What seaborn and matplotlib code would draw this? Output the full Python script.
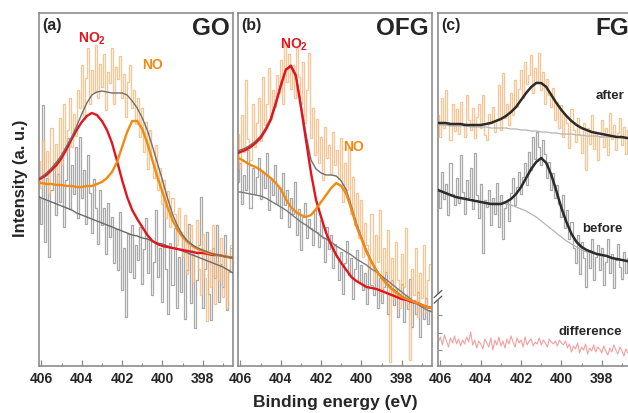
import numpy as np
import pandas as pd
import matplotlib
matplotlib.use("Agg")
import matplotlib.pyplot as plt
import seaborn as sns

# ---------------------------------------------------------------- data
# Binding-energy scan grids (eV): raw spectra at 0.1 eV, fitted curves at 0.25 eV
E_RAW = np.round(np.linspace(406.1, 396.6, 96), 2)
E_FIT = np.round(np.linspace(406.25, 396.5, 40), 2)

# (a) GO
go_after = [205, 178, 226, 190, 215, 172, 238, 196, 222, 184,
            248, 201, 262, 214, 236, 268, 219, 252, 230, 276,
            258, 301, 247, 288, 318, 262, 296, 274, 321, 268,
            302, 279, 312, 256, 294, 283, 318, 262, 299, 287,
            310, 268, 292, 249, 284, 301, 258, 276, 242, 268,
            229, 258, 214, 244, 197, 236, 206, 188, 221, 176,
            198, 162, 186, 148, 175, 139, 168, 152, 121, 158,
            134, 109, 151, 92, 128, 141, 84, 118, 146, 97,
            71, 132, 88, 45, 116, 79, 141, 62, 104, 86,
            128, 69, 112, 58, 97, 121]
go_before = [168, 142, 261, 124, 188, 109, 176, 203, 151, 192,
             164, 214, 139, 186, 228, 157, 201, 172, 219, 148,
             229, 168, 196, 142, 211, 173, 133, 187, 158, 122,
             176, 141, 158, 112, 163, 129, 149, 103, 137, 96,
             154, 76, 118, 49, 132, 94, 141, 88, 121, 106,
             139, 82, 117, 148, 93, 128, 71, 104, 156, 89,
             118, 64, 166, 97, 52, 123, 81, 138, 58, 109,
             74, 131, 47, 96, 142, 63, 112, 38, 86, 121,
             169, 58, 97, 134, 72, 46, 118, 88, 141, 64,
             102, 79, 131, 56, 94, 118]
go_no2 = [185, 188, 191, 196, 201, 208, 217, 227, 236, 244,
          250, 253, 251, 245, 236, 223, 205, 186, 169, 156,
          147, 139, 131, 125, 122, 120, 119, 118, 117, 116,
          115, 114, 113, 113, 112, 111, 111, 110, 109, 108]
go_no = [184, 183, 182, 182, 181, 181, 180, 180, 179, 179,
         180, 180, 182, 184, 188, 194, 204, 219, 234, 245,
         245, 237, 223, 206, 189, 174, 159, 146, 136, 129,
         124, 120, 117, 115, 113, 112, 111, 110, 109, 108]
go_bg = [171, 168, 166, 164, 162, 160, 158, 156, 153, 151,
         149, 147, 145, 143, 141, 139, 137, 135, 133, 131,
         130, 128, 127, 125, 123, 122, 120, 118, 117, 115,
         113, 111, 109, 107, 105, 103, 101, 99, 96, 93]
go_env = [187, 189, 193, 198, 204, 211, 220, 229, 240, 252,
          263, 271, 274, 275, 274, 273, 273, 273, 271, 265,
          258, 248, 236, 220, 203, 186, 168, 152, 140, 131,
          125, 121, 118, 116, 114, 112, 111, 110, 109, 108]

# (b) OFG
ofg_after = [232, 198, 251, 214, 286, 227, 206, 262, 219, 243,
             268, 225, 289, 241, 262, 298, 247, 276, 259, 291,
             273, 306, 262, 323, 284, 312, 277, 301, 268, 318,
             289, 262, 304, 243, 276, 313, 228, 258, 211, 247,
             203, 229, 186, 239, 208, 221, 192, 234, 201, 216,
             187, 228, 164, 203, 176, 219, 152, 189, 141, 173,
             128, 166, 109, 143, 121, 97, 152, 83, 131, 104,
             156, 72, 118, 92, 136, 4, 108, 67, 124, 86,
             58, 112, 79, 138, 62, 6, 97, 71, 118, 49,
             93, 68, 121, 54, 86, 102]
ofg_before = [184, 203, 162, 191, 176, 216, 158, 198, 172, 189,
              208, 167, 194, 178, 213, 156, 188, 171, 201, 162,
              179, 148, 193, 161, 176, 139, 168, 152, 184, 131,
              157, 116, 149, 163, 128, 147, 138, 121, 156, 134,
              119, 146, 128, 104, 139, 117, 131, 98, 122, 109,
              86, 114, 72, 103, 125, 91, 108, 67, 97, 116,
              84, 101, 76, 93, 62, 108, 81, 71, 96, 58,
              88, 63, 79, 94, 52, 72, 86, 61, 77, 49,
              68, 82, 44, 71, 57, 87, 39, 66, 52, 74,
              29, 61, 47, 68, 42, 56]
ofg_no2 = [212, 214, 216, 219, 223, 228, 236, 246, 262, 280,
           296, 300, 290, 259, 226, 193, 166, 149, 133, 121,
           111, 103, 96, 89, 85, 82, 79, 78, 77, 75,
           73, 71, 69, 67, 66, 64, 63, 61, 59, 58]
ofg_no = [209, 207, 204, 201, 199, 196, 192, 188, 183, 177,
          167, 159, 154, 151, 149, 151, 157, 164, 171, 178,
          183, 180, 172, 157, 140, 127, 114, 104, 95, 88,
          82, 77, 73, 69, 67, 65, 63, 61, 59, 58]
ofg_bg = [174, 174, 173, 172, 171, 170, 168, 165, 162, 159,
          156, 152, 148, 144, 141, 137, 134, 130, 127, 124,
          120, 117, 114, 111, 107, 104, 101, 97, 94, 90,
          86, 82, 78, 74, 70, 66, 62, 59, 56, 54]
ofg_env = [214, 216, 218, 221, 225, 230, 238, 248, 264, 282,
           297, 301, 292, 262, 232, 206, 197, 193, 191, 191,
           190, 185, 176, 160, 143, 129, 116, 105, 96, 89,
           83, 78, 74, 70, 67, 65, 63, 61, 59, 58]

# (c) FG
fg_after = [251, 229, 268, 238, 276, 244, 226, 262, 235, 257,
            232, 264, 241, 229, 271, 246, 236, 258, 228, 249,
            262, 238, 271, 231, 226, 252, 243, 259, 234, 247,
            281, 236, 293, 248, 262, 241, 273, 251, 286, 259,
            277, 296, 268, 304, 282, 291, 311, 273, 298, 285,
            313, 276, 294, 262, 287, 271, 259, 278, 246, 264,
            238, 261, 229, 252, 243, 218, 257, 236, 224, 248,
            231, 213, 243, 196, 238, 222, 251, 217, 234, 206,
            229, 246, 219, 238, 211, 253, 227, 241, 216, 233,
            248, 221, 239, 212, 236, 226]
fg_before = [176, 158, 194, 167, 182, 151, 203, 172, 161, 188,
             163, 211, 174, 152, 186, 169, 198, 157, 213, 171,
             148, 182, 113, 166, 159, 176, 141, 168, 152, 183,
             139, 171, 127, 158, 164, 145, 173, 188, 161, 179,
             194, 172, 189, 203, 181, 214, 196, 229, 207, 234,
             219, 201, 226, 212, 188, 204, 176, 193, 168, 181,
             162, 149, 171, 138, 156, 127, 144, 118, 103, 131,
             92, 124, 108, 79, 116, 98, 127, 86, 109, 121,
             96, 118, 81, 104, 127, 93, 112, 78, 106, 122,
             99, 87, 114, 93, 108, 119]
fg_diff = [24, 29, 21, 31, 25, 19, 28, 23, 30, 22,
           27, 20, 26, 22, 29, 24, 34, 21, 26, 18,
           25, 22, 17, 27, 23, 19, 28, 16, 26, 21,
           29, 20, 25, 18, 27, 22, 30, 24, 19, 28,
           23, 26, 19, 29, 21, 25, 27, 20, 24, 22,
           28, 21, 26, 23, 19, 27, 24, 22, 25, 20,
           26, 23, 21, 25, 18, 22, 14, 20, 17, 23,
           13, 19, 16, 22, 12, 18, 15, 21, 14, 19,
           17, 13, 20, 15, 11, 18, 14, 21, 16, 12,
           19, 15, 10, 17, 13, 16]
fg_after_fit = [243, 243, 243, 242, 242, 242, 241, 241, 241, 241,
                242, 243, 245, 247, 250, 254, 259, 266, 273, 279,
                283, 283, 279, 271, 263, 256, 250, 245, 241, 238,
                236, 234, 233, 232, 231, 230, 229, 229, 228, 228]
fg_after_bg = [241, 241, 241, 240, 240, 240, 240, 239, 239, 239,
               239, 238, 238, 238, 238, 237, 237, 236, 236, 235,
               235, 234, 234, 233, 233, 232, 232, 232, 231, 231,
               230, 230, 230, 229, 229, 229, 229, 228, 228, 228]
fg_before_fit = [177, 175, 173, 171, 169, 168, 167, 166, 165, 164,
                 163, 162, 162, 162, 164, 167, 172, 179, 188, 197,
                 204, 208, 203, 191, 175, 158, 144, 132, 124, 119,
                 116, 114, 112, 111, 110, 108, 107, 106, 105, 104]
fg_before_bg = [177, 175, 173, 171, 169, 168, 167, 166, 165, 164,
                163, 163, 163, 163, 162, 161, 159, 157, 155, 152,
                149, 145, 141, 137, 133, 129, 125, 122, 119, 116,
                114, 113, 112, 111, 110, 108, 107, 106, 105, 104]

x_ticks = [406, 404, 402, 400, 398]
panel_tags = ["(a)", "(b)", "(c)"]
panel_names = ["GO", "OFG", "FG"]

# ---------------------------------------------------------------- style
sns.set_theme(style="white")
plt.rcParams["font.family"] = ["Liberation Sans", "DejaVu Sans"]
plt.rcParams["font.weight"] = "bold"
plt.rcParams["mathtext.fontset"] = "custom"
plt.rcParams["mathtext.rm"] = "Liberation Sans"
plt.rcParams["mathtext.bf"] = "Liberation Sans:bold"

C_ORANGE_RAW = "#f9b777"
C_GRAY_RAW = "#a9a9a9"
C_RED = "#e4141c"
C_ORANGE = "#f28a12"
C_ENV = "#6e6e6e"
C_SPINE = "#8c8c8c"

W, H = 628, 413
fig = plt.figure(figsize=(W / 100, H / 100), dpi=100)
bottom, top = 366, 13
lefts = [39, 238, 438]
width = 194
axes = [fig.add_axes([l / W, (H - bottom) / H, width / W, (bottom - top) / H])
        for l in lefts]

XLIM = (406.12, 396.5)
YLIM = (0, 353)


def raw(ax, y, color, alpha=1.0, lw=0.9, z=1, steps=True):
    df = pd.DataFrame({"E": E_RAW, "I": y})
    kw = {"drawstyle": "steps-mid"} if steps else {}
    sns.lineplot(data=df, x="E", y="I", ax=ax, color=color, lw=lw, alpha=alpha,
                 estimator=None, sort=False, zorder=z, **kw)


def curve(ax, y, color, lw=1.6, z=3):
    df = pd.DataFrame({"E": E_FIT, "I": y})
    sns.lineplot(data=df, x="E", y="I", ax=ax, color=color, lw=lw,
                 estimator=None, sort=False, zorder=z)


# (a) GO
ax = axes[0]
raw(ax, go_before, C_GRAY_RAW, z=1)
raw(ax, go_after, C_ORANGE_RAW, alpha=0.8, z=2)
curve(ax, go_bg, "#6a6a6a", lw=1.0)
curve(ax, go_no2, C_RED, lw=1.7)
curve(ax, go_no, C_ORANGE, lw=1.7)
curve(ax, go_env, C_ENV, lw=1.0, z=4)
ax.text(0.275, 0.927, r"NO$_{\mathbf{2}}$", transform=ax.transAxes, color=C_RED,
        fontsize=10, fontweight="bold", ha="center", va="center")
ax.text(0.585, 0.852, "NO", transform=ax.transAxes, color=C_ORANGE,
        fontsize=10, fontweight="bold", ha="center", va="center")

# (b) OFG
ax = axes[1]
raw(ax, ofg_before, C_GRAY_RAW, z=1)
raw(ax, ofg_after, C_ORANGE_RAW, alpha=0.8, z=2)
curve(ax, ofg_bg, "#7a7a7a", lw=1.0)
curve(ax, ofg_env, C_ENV, lw=1.0, z=3)
curve(ax, ofg_no2, C_RED, lw=1.7, z=4)
curve(ax, ofg_no, C_ORANGE, lw=1.7, z=4)
ax.text(0.29, 0.91, r"NO$_{\mathbf{2}}$", transform=ax.transAxes, color=C_RED,
        fontsize=10, fontweight="bold", ha="center", va="center")
ax.text(0.595, 0.62, "NO", transform=ax.transAxes, color=C_ORANGE,
        fontsize=10, fontweight="bold", ha="center", va="center")

# (c) FG
ax = axes[2]
raw(ax, fg_before, C_GRAY_RAW, z=1)
raw(ax, fg_after, C_ORANGE_RAW, alpha=0.8, z=2)
raw(ax, fg_diff, "#f4a0a0", lw=0.8, z=2, steps=False)
curve(ax, fg_after_bg, "#b4b4b4", lw=0.9)
curve(ax, fg_before_bg, "#b4b4b4", lw=0.9)
curve(ax, fg_after_fit, "#2b2b2b", lw=1.8, z=4)
curve(ax, fg_before_fit, "#2b2b2b", lw=1.8, z=4)
ax.text(0.81, 0.765, "after", transform=ax.transAxes, fontsize=9.5,
        fontweight="bold", ha="left", va="center")
ax.text(0.745, 0.388, "before", transform=ax.transAxes, fontsize=9.5,
        fontweight="bold", ha="left", va="center")
ax.text(0.62, 0.095, "difference", transform=ax.transAxes, fontsize=9.5,
        fontweight="bold", ha="left", va="center")
# y-axis break on the left spine, with a few inner ticks below it
ax.set_yticks([16, 33, 51])
ax.tick_params(axis="y", which="major", direction="in", length=3, width=0.8,
               color=C_SPINE, left=True, labelleft=False)
yb = 0.196
ax.add_patch(plt.Rectangle((-0.02, yb - 0.008), 0.04, 0.016, transform=ax.transAxes,
                           facecolor="white", edgecolor="none", clip_on=False, zorder=6))
for dy in (-0.008, 0.008):
    ax.plot([-0.02, 0.02], [yb + dy - 0.01, yb + dy + 0.01], transform=ax.transAxes,
            color="#555555", lw=0.9, clip_on=False, zorder=7)

# common axis formatting
for i, ax in enumerate(axes):
    ax.set_xlim(*XLIM)
    ax.set_ylim(*YLIM)
    ax.set_xlabel("")
    ax.set_ylabel("")
    ax.set_xticks(x_ticks)
    ax.set_xticklabels([str(t) for t in x_ticks], fontsize=10, fontweight="bold")
    ax.set_xticks([405, 403, 401, 399, 397], minor=True)
    ax.tick_params(axis="x", which="major", direction="in", length=4, width=0.9,
                   color=C_SPINE, bottom=True, pad=4)
    ax.tick_params(axis="x", which="minor", direction="in", length=2.5, width=0.8,
                   color=C_SPINE, bottom=True)
    if i < 2:
        ax.set_yticks([])
    for s in ax.spines.values():
        s.set_color(C_SPINE)
        s.set_linewidth(1.2)
        s.set_visible(True)
    ax.text(0.015, 0.985, panel_tags[i], transform=ax.transAxes, fontsize=11.5,
            fontweight="bold", ha="left", va="top")
    ax.text(0.985, 0.99, panel_names[i], transform=ax.transAxes, fontsize=17.5,
            fontweight="bold", ha="right", va="top")

fig.text(21 / W, 1 - 178 / H, "Intensity (a. u.)", rotation=90, fontsize=12,
         fontweight="bold", ha="center", va="center")
fig.text(335 / W, 1 - 403 / H, "Binding energy (eV)", fontsize=12.5,
         fontweight="bold", ha="center", va="center")

fig.savefig("out.png", dpi=100)
